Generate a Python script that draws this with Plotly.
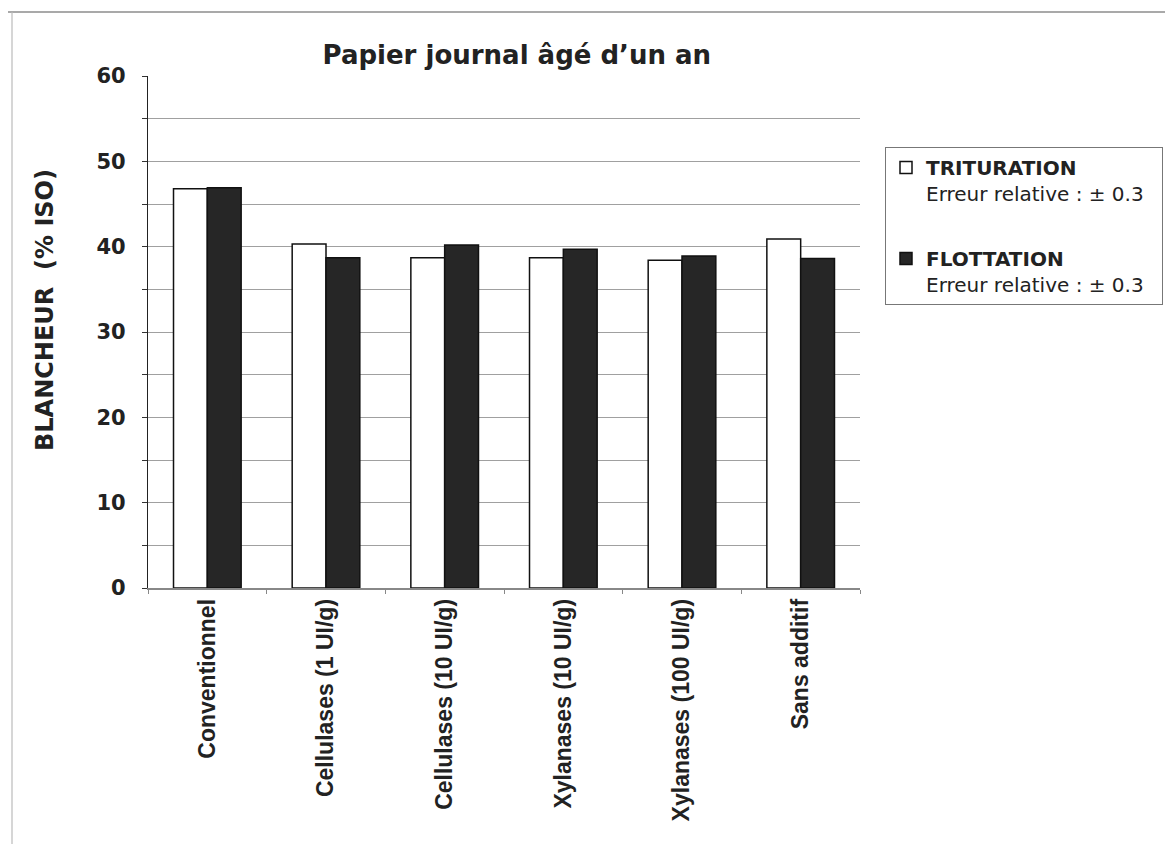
import plotly.graph_objects as go

categories = ["Conventionnel", "Cellulases (1 UI/g)", "Cellulases (10 UI/g)",
              "Xylanases (10 UI/g)", "Xylanases (100 UI/g)", "Sans additif"]
trituration = [46.8, 40.3, 38.7, 38.7, 38.4, 40.9]
flottation = [46.9, 38.7, 40.2, 39.7, 38.9, 38.6]
series_names = ["<b>TRITURATION</b><br>Erreur relative : ± 0.3\u00a0\u00a0",
                "<b>FLOTTATION</b><br>Erreur relative : ± 0.3\u00a0\u00a0"]
y_title = "<b>BLANCHEUR\u00a0 (% ISO)</b>"

FONT = "DejaVu Sans, Arial, sans-serif"
ARIAL = "Liberation Sans, Arial, sans-serif"

# figure is drawn inside the page's 8px body margin
W, H = 1157, 836
L, T, R, B = 140, 68, 305, 256
pw, ph = W - L - R, H - T - B

fig = go.Figure()
fig.add_trace(go.Bar(x=categories, y=trituration, name=series_names[0], legendgroup="a",
                     marker=dict(color="white", line=dict(color="#111", width=1.5))))
fig.add_trace(go.Bar(x=categories, y=flottation, name=series_names[1], legendgroup="b",
                     marker=dict(color="#262626", line=dict(color="#111", width=1.5))))

fig.update_layout(
    width=W, height=H,
    margin=dict(l=L, r=R, t=T, b=B, autoexpand=False),
    paper_bgcolor="white", plot_bgcolor="white",
    font=dict(family=FONT, color="#222"),
    barmode="group", bargap=0.43, bargroupgap=0,
    title=dict(text="<b>Papier journal âgé d’un an</b>", xref="paper", x=0.518, xanchor="center",
               yref="container", y=1 - 47 / H, yanchor="middle", font=dict(size=26, color="#222")),
    showlegend=True,
    legend=dict(x=(877 - L) / pw, y=(580 - 139) / ph, xanchor="left", yanchor="top",
                bgcolor="white", bordercolor="#777", borderwidth=1,
                font=dict(size=20, color="#222", family=FONT), valign="top",
                tracegroupgap=36),
    yaxis=dict(range=[0, 60], dtick=10, showgrid=True, gridcolor="#a0a0a0", gridwidth=1,
               minor=dict(dtick=5, showgrid=True, gridcolor="#a0a0a0", ticks="outside",
                          ticklen=5, tickcolor="#333"),
               ticks="outside", ticklen=5, tickcolor="#333", ticklabelstandoff=12,
               showline=True, linecolor="#222", linewidth=1.2,
               tickfont=dict(size=21, family=FONT, color="#222"),
               tickprefix="<b>", ticksuffix="</b>", zeroline=False),
    xaxis=dict(tickangle=-90, tickfont=dict(size=23, family=ARIAL, color="#222"),
               showline=True, linecolor="#888", linewidth=1.5,
               ticks="outside", ticklen=4, tickcolor="#888", tickson="boundaries",
               tickprefix="<b>", ticksuffix="</b>"),
)

# y-axis title (placed as in the original, slightly above the plot's centre)
fig.add_annotation(text=y_title, xref="paper", yref="paper",
                   x=(37 - L) / pw, y=(580 - 302) / ph, textangle=-90,
                   showarrow=False, xanchor="center", yanchor="middle",
                   font=dict(size=24, family=FONT, color="#222"))

# scan frame lines (top and left edges of the scanned page)
fig.add_shape(type="line", xref="paper", yref="paper",
              x0=(0 - L) / pw, x1=(W - L) / pw, y0=(H - B - 4) / ph, y1=(H - B - 4) / ph,
              line=dict(color="#555", width=1.2))
fig.add_shape(type="line", xref="paper", yref="paper",
              x0=(4 - L) / pw, x1=(4 - L) / pw, y0=-B / ph, y1=(H - B - 4) / ph,
              line=dict(color="#bbb", width=1.2))

fig.write_html("out.html")
